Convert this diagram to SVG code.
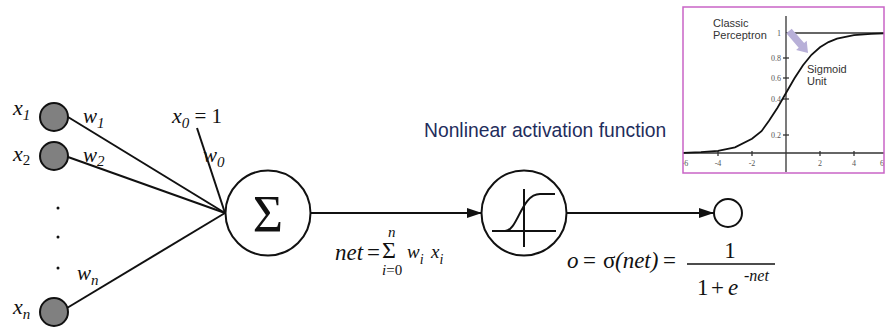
<svg xmlns="http://www.w3.org/2000/svg" width="885" height="332" viewBox="0 0 885 332">
<defs>
<style>
.ln{stroke:#111;stroke-width:2;fill:none}
.m{font-family:"Liberation Serif",serif;font-style:italic;fill:#111}
.r{font-family:"Liberation Serif",serif;font-style:normal;fill:#111}
.in{fill:#808080;stroke:#111;stroke-width:2}
.tk{font-family:"Liberation Serif",serif;font-size:8px;fill:#555}
.lab{font-family:"Liberation Sans",Arial,sans-serif;font-size:11px;fill:#333}
.ax{stroke:#333;stroke-width:1.3;fill:none}
</style>
<marker id="ah" viewBox="0 0 15 10" refX="15" refY="5" markerWidth="15" markerHeight="10" markerUnits="userSpaceOnUse" orient="auto">
<path d="M0,0 L15,5 L0,10 z" fill="#111"/>
</marker>
<clipPath id="ic"><rect x="683" y="7" width="201" height="166"/></clipPath>
</defs>
<rect width="885" height="332" fill="#fff"/>

<g id="connectors">
<line class="ln" x1="68" y1="117" x2="225" y2="213"/>
<line class="ln" x1="68" y1="157" x2="225" y2="213"/>
<line class="ln" x1="67" y1="308" x2="225" y2="213"/>
<line class="ln" x1="197" y1="128" x2="225" y2="213"/>
<line class="ln" x1="310" y1="213" x2="482" y2="213" marker-end="url(#ah)"/>
<line class="ln" x1="567" y1="213" x2="714" y2="213" marker-end="url(#ah)"/>
<text class="m" x="83" y="123" font-size="21">w<tspan font-size="15" dy="5">1</tspan></text>
<text class="m" x="83" y="162" font-size="21">w<tspan font-size="15" dy="4">2</tspan></text>
<text class="m" x="203" y="162" font-size="21">w<tspan font-size="15" dy="5">0</tspan></text>
<text class="m" x="77" y="280" font-size="21">w<tspan font-size="15" dy="5">n</tspan></text>
</g>

<g id="x1">
<circle class="in" cx="54" cy="117" r="14"/>
<text class="m" x="13" y="115" font-size="22">x<tspan font-size="15" dy="5">1</tspan></text>
</g>
<g id="x2">
<circle class="in" cx="54" cy="156" r="14"/>
<text class="m" x="13" y="161" font-size="22">x<tspan class="r" font-size="15" dy="4">2</tspan></text>
</g>
<g id="dots" fill="#111">
<circle cx="58" cy="208" r="1.5"/>
<circle cx="58" cy="237" r="1.5"/>
<circle cx="58" cy="268" r="1.5"/>
</g>
<g id="xn">
<circle class="in" cx="54" cy="312" r="14"/>
<text class="m" x="13" y="314" font-size="22">x<tspan font-size="15" dy="5">n</tspan></text>
</g>
<g id="x0">
<text class="m" x="172" y="123" font-size="22">x<tspan font-size="15" dy="5">0</tspan><tspan class="r" dy="-5" font-size="21"> = 1</tspan></text>
</g>

<g id="sum">
<circle cx="268" cy="213" r="42.5" fill="#fff" stroke="#111" stroke-width="2"/>
<text class="r" x="268" y="232" font-size="52" text-anchor="middle">Σ</text>
</g>

<g id="act">
<circle cx="524" cy="213" r="42.5" fill="#fff" stroke="#111" stroke-width="2"/>
<line class="ln" x1="492" y1="231" x2="556" y2="231"/>
<line class="ln" x1="524" y1="189" x2="524" y2="247"/>
<path class="ln" d="M505,231 C518,231 521,194 540,194 L555,194"/>
</g>

<g id="out">
<circle cx="728" cy="213" r="14" fill="#fff" stroke="#111" stroke-width="2"/>
</g>

<g id="net-formula">
<text class="m" x="335" y="260" font-size="23">net</text>
<text class="r" x="367" y="260" font-size="23">=</text>
<text class="r" x="382" y="258" font-size="24">Σ</text>
<text class="m" x="388" y="237" font-size="15">n</text>
<text class="m" x="382" y="275" font-size="15">i<tspan class="r">=0</tspan></text>
<text class="m" x="407" y="258" font-size="19">w<tspan font-size="14" dy="6">i</tspan></text>
<text class="m" x="431" y="258" font-size="19">x<tspan font-size="14" dy="6">i</tspan></text>
</g>

<g id="out-formula">
<text class="m" x="567" y="268" font-size="23">o</text>
<text class="r" x="583" y="268" font-size="23">=</text>
<text class="r" x="603" y="268" font-size="23">σ</text>
<text class="m" x="615" y="268" font-size="23">(net)</text>
<text class="r" x="663" y="268" font-size="23">=</text>
<line x1="687" y1="264" x2="775" y2="264" stroke="#111" stroke-width="1.6"/>
<text class="r" x="730" y="258" font-size="23" text-anchor="middle">1</text>
<text class="r" x="697" y="295" font-size="23">1</text>
<text class="r" x="711" y="295" font-size="23">+</text>
<text class="m" x="728" y="295" font-size="23">e</text>
<text class="m" x="744" y="281" font-size="16">-net</text>
</g>

<text id="act-label" x="424" y="137" font-family="'Liberation Sans',Arial,sans-serif" font-size="19.3" fill="#1f2d5c">Nonlinear activation function</text>

<g id="inset">
<rect x="683" y="7" width="201" height="166" fill="#fff"/>
<g clip-path="url(#ic)">
<line class="ax" x1="683" y1="153" x2="885" y2="153"/>
<line class="ax" x1="786" y1="16" x2="786" y2="172"/>
<line class="ax" x1="786" y1="33" x2="885" y2="33"/>
<g class="ax">
<line x1="783" y1="58" x2="789" y2="58"/>
<line x1="783" y1="78" x2="789" y2="78"/>
<line x1="783" y1="99" x2="789" y2="99"/>
<line x1="783" y1="135" x2="789" y2="135"/>
<line x1="718" y1="151" x2="718" y2="156"/>
<line x1="752" y1="151" x2="752" y2="156"/>
<line x1="820" y1="151" x2="820" y2="156"/>
<line x1="854" y1="151" x2="854" y2="156"/>
</g>
<polyline fill="none" stroke="#111" stroke-width="1.8" points="683,152.8 701,152.2 718,150.8 735,147.3 752,138.7 761.5,131.2 769,120.7 777.5,107.7 786,93 794.5,78.3 803,65.3 811.5,54.8 820,47.3 828.5,42.1 837,38.7 854,35.2 871,33.8 885,33.4"/>
<text class="tk" x="781" y="36" text-anchor="end">1</text>
<text class="tk" x="781" y="61" text-anchor="end">0.8</text>
<text class="tk" x="781" y="81" text-anchor="end">0.6</text>
<text class="tk" x="781" y="102" text-anchor="end">0.4</text>
<text class="tk" x="781" y="138" text-anchor="end">0.2</text>
<text class="tk" x="685" y="166" text-anchor="middle">-6</text>
<text class="tk" x="718" y="166" text-anchor="middle">-4</text>
<text class="tk" x="752" y="166" text-anchor="middle">-2</text>
<text class="tk" x="820" y="166" text-anchor="middle">2</text>
<text class="tk" x="854" y="166" text-anchor="middle">4</text>
<text class="tk" x="882" y="166" text-anchor="middle">6</text>
</g>
<polygon fill="#b8b0d8" points="786.3,33.3 798.7,47.7 796.1,50 808,53 806.7,40.8 804.1,43.1 791.7,28.7"/>
<text class="lab" x="713" y="27">Classic</text>
<text class="lab" x="713" y="39">Perceptron</text>
<text class="lab" x="807" y="73">Sigmoid</text>
<text class="lab" x="807" y="85">Unit</text>
<rect x="683" y="7" width="201" height="166" fill="none" stroke="#c964c6" stroke-width="1.5"/>
</g>
</svg>
